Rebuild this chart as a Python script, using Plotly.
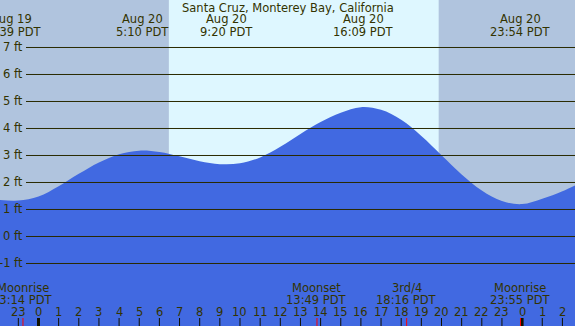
import plotly.graph_objects as go

# ---- data ----
curve_hours = [-2, -1, 0, 1, 2, 3, 4, 5, 6, 7, 8, 9, 10, 11, 12, 13, 14, 15, 16,
               17, 18, 19, 20, 21, 22, 23, 24, 25, 26, 26.7]
curve_feet = [1.36, 1.33, 1.48, 1.86, 2.32, 2.74, 3.05, 3.18, 3.13, 2.97, 2.79, 2.68,
              2.71, 2.93, 3.32, 3.80, 4.24, 4.58, 4.79, 4.69, 4.32, 3.72, 3.01, 2.30,
              1.70, 1.31, 1.20, 1.40, 1.68, 1.92]

tide_hours = [-1.35, 5.17, 9.33, 16.15, 23.9]
tide_dates = ["Aug 19", "Aug 20", "Aug 20", "Aug 20", "Aug 20"]
tide_times = ["22:39 PDT", "5:10 PDT", "9:20 PDT", "16:09 PDT", "23:54 PDT"]

moon_hours = [-0.77, 13.82, 18.27, 23.92]
moon_names = ["Moonrise", "Moonset", "3rd/4", "Moonrise"]
moon_times = ["23:14 PDT", "13:49 PDT", "18:16 PDT", "23:55 PDT"]

sunrise_h = 6.47
sunset_h = 19.86

levels = [-1, 0, 1, 2, 3, 4, 5, 6, 7]
tick_hours = list(range(-2, 27))
tick_labels = [str(h % 24) for h in tick_hours]

title = "Santa Cruz, Monterey Bay, California"

# ---- styling ----
W, H = 575, 326
X_RANGE = [-1.91, 26.625]
Y_RANGE = [-3.315, 8.759]
NIGHT = "#b0c4de"
DAY = "#def7ff"
WATER = "#4169e1"
INK = "#333300"
LINE = "#2a2a00"
FONT = "DejaVu Sans"
FS = 11.5


def py(px):
    return 1 - px / H


fig = go.Figure()
fig.add_trace(go.Scatter(x=[X_RANGE[0] - 1, X_RANGE[1] + 1], y=[Y_RANGE[0] - 1] * 2,
                         mode="lines", line=dict(width=0), hoverinfo="skip", showlegend=False))
fig.add_trace(go.Scatter(x=curve_hours, y=curve_feet, mode="lines",
                         line=dict(width=0, shape="spline", color=WATER),
                         fill="tonexty", fillcolor=WATER, hoverinfo="skip", showlegend=False))

shapes = []
shapes.append(dict(type="rect", xref="x", yref="paper", x0=sunrise_h, x1=sunset_h,
                   y0=0, y1=1, fillcolor=DAY, line=dict(width=0), layer="below"))
for lv in levels:
    shapes.append(dict(type="line", xref="paper", yref="y", x0=26 / W, x1=1, y0=lv, y1=lv,
                       line=dict(color=LINE, width=1), layer="above"))
for h in tick_hours:
    wd = 3 if h % 24 == 0 else 1
    shapes.append(dict(type="line", xref="x", yref="paper", x0=h, x1=h, y0=0, y1=8 / H,
                       line=dict(color="#111100", width=wd), layer="above"))
for h in moon_hours:
    shapes.append(dict(type="line", xref="x", yref="paper", x0=h, x1=h, y0=0, y1=8 / H,
                       line=dict(color="#ff0000", width=1), layer="above"))

ann = []
font = dict(family=FONT, size=FS, color=INK)
ann.append(dict(text=title, xref="paper", yref="paper", x=0.5, y=py(8), showarrow=False,
                xanchor="center", yanchor="middle", font=font))
for lv in levels:
    ann.append(dict(text=f"{lv} ft", xref="paper", yref="y", x=25 / W, y=lv, showarrow=False,
                    xanchor="right", yanchor="middle", font=font))
for h, d, t in zip(tide_hours, tide_dates, tide_times):
    ann.append(dict(text=d, xref="x", yref="paper", x=h, y=py(19.5), showarrow=False,
                    xanchor="center", yanchor="middle", font=font))
    ann.append(dict(text=t, xref="x", yref="paper", x=h, y=py(31.5), showarrow=False,
                    xanchor="center", yanchor="middle", font=font))
for h, n, t in zip(moon_hours, moon_names, moon_times):
    ann.append(dict(text=n, xref="x", yref="paper", x=h, y=py(287.5), showarrow=False,
                    xanchor="center", yanchor="middle", font=font))
    ann.append(dict(text=t, xref="x", yref="paper", x=h, y=py(299.5), showarrow=False,
                    xanchor="center", yanchor="middle", font=font))
for h, lab in zip(tick_hours, tick_labels):
    ann.append(dict(text=lab, xref="x", yref="paper", x=h, y=py(311.5), showarrow=False,
                    xanchor="center", yanchor="middle", font=font))

fig.update_layout(
    width=W, height=H, margin=dict(l=0, r=0, t=0, b=0),
    plot_bgcolor=NIGHT, paper_bgcolor=NIGHT,
    xaxis=dict(range=X_RANGE, visible=False, fixedrange=True),
    yaxis=dict(range=Y_RANGE, visible=False, fixedrange=True),
    shapes=shapes, annotations=ann, showlegend=False,
)
fig.write_html("out.html", config={"displayModeBar": False},
               post_script="document.body.style.margin='0';document.body.style.overflow='hidden';")
